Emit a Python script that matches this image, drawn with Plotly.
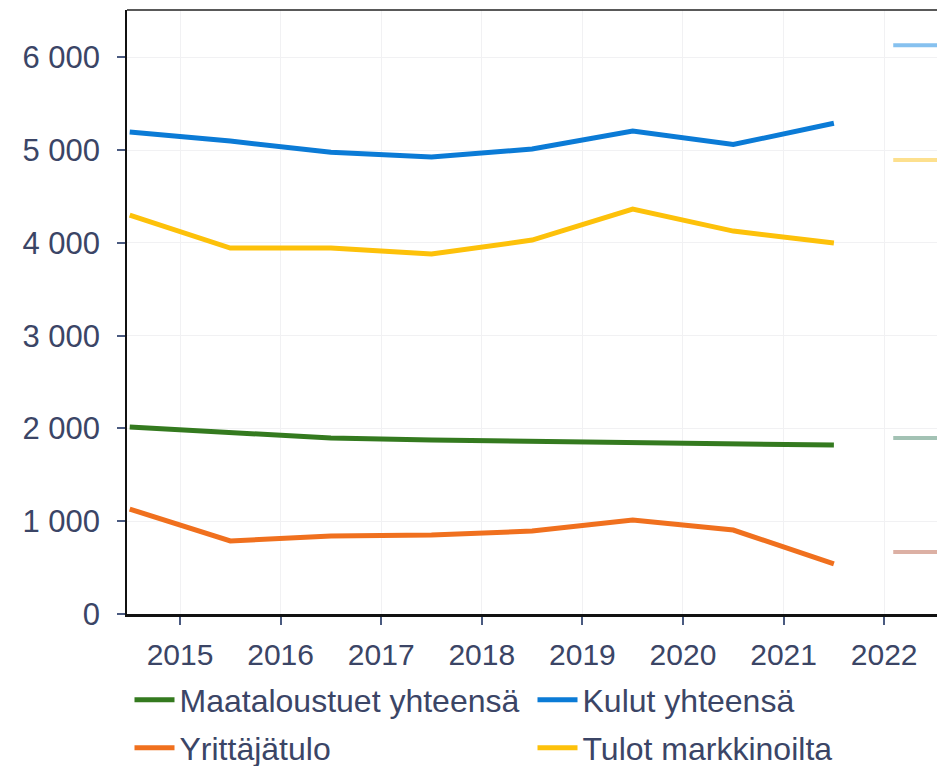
import plotly.graph_objects as go

years = [2015, 2016, 2017, 2018, 2019, 2020, 2021, 2022]
tick_years = [2015, 2016, 2017, 2018, 2019, 2020, 2021, 2022]

maataloustuet = [2015, 1950, 1897, 1875, 1864, 1853, 1843, 1821]
kulut = [5194, 5097, 4978, 4925, 5011, 5205, 5060, 5290]
yrittajatulo = [1131, 787, 840, 851, 894, 1013, 905, 539]
tulot = [4300, 3944, 3944, 3880, 4030, 4364, 4127, 3998]

# faint forecast marks at the right edge
forecast_names = ["Kulut yhteensä", "Tulot markkinoilta", "Maataloustuet yhteensä", "Yrittäjätulo"]
forecast_values = [6130, 4892, 1897, 668]
forecast_colors = ["#86c1ef", "#fde08e", "#a3c2b4", "#dcb0a4"]

x_pos = [y - 0.5 for y in years]

txt = "#3b4566"
font = "Liberation Sans, Arial, sans-serif"

W, H = 937, 766

fig = go.Figure()

series = [
    ("Maataloustuet yhteensä", maataloustuet, "#347a1f", "legend"),
    ("Kulut yhteensä", kulut, "#0b7bd6", "legend"),
    ("Yrittäjätulo", yrittajatulo, "#f0701e", "legend2"),
    ("Tulot markkinoilta", tulot, "#fdc10a", "legend2"),
]
for name, vals, col, lg in series:
    fig.add_trace(go.Scatter(x=x_pos, y=vals, mode="lines", name=name, legend=lg,
                             line=dict(color=col, width=5)))

for name, v, col in zip(forecast_names, forecast_values, forecast_colors):
    fig.add_trace(go.Scatter(x=[2022.09, 2022.7], y=[v, v], mode="lines",
                             line=dict(color=col, width=4), showlegend=False,
                             name=name))

leg_common = dict(orientation="h", xref="container", x=129.5 / W, xanchor="left",
                  yref="container", yanchor="middle",
                  font=dict(size=32, color=txt), entrywidth=348,
                  itemwidth=40, bgcolor="rgba(0,0,0,0)")

fig.update_layout(
    width=W, height=H,
    margin=dict(l=127, r=0, t=10, b=152, autoexpand=False),
    plot_bgcolor="white", paper_bgcolor="white",
    separators=", ",
    font=dict(family=font, size=30, color=txt),
    showlegend=True,
    legend=dict(leg_common, y=1 - 700 / H),
    legend2=dict(leg_common, y=1 - 748 / H),
    xaxis=dict(range=[2014.473, 2022.525], tickvals=tick_years,
               ticktext=[str(t) for t in tick_years],
               showgrid=True, gridcolor="#f1f1f3", gridwidth=1,
               showline=True, linecolor="#111111", linewidth=3,
               ticks="outside", ticklen=8, tickcolor="#4a5a80", tickwidth=1.5,
               ticklabelstandoff=4,
               zeroline=False, tickfont=dict(size=30, color=txt)),
    yaxis=dict(range=[0, 6510], tickvals=[0, 1000, 2000, 3000, 4000, 5000, 6000],
               tickformat=",d",
               showgrid=True, gridcolor="#f1f1f3", gridwidth=1,
               showline=True, linecolor="#111111", linewidth=1.5,
               ticks="outside", ticklen=8, tickcolor="#4a5a80", tickwidth=1.5,
               zeroline=False, ticklabelstandoff=11, tickfont=dict(size=31, color=txt)),
)

fig.add_shape(type="line", xref="paper", yref="paper", x0=0, x1=1, y0=1, y1=1,
              line=dict(color="#222222", width=1.5))

fig.write_html("out.html", config={"displayModeBar": False},
               post_script="document.body.style.margin='0';document.body.style.overflow='hidden';")
